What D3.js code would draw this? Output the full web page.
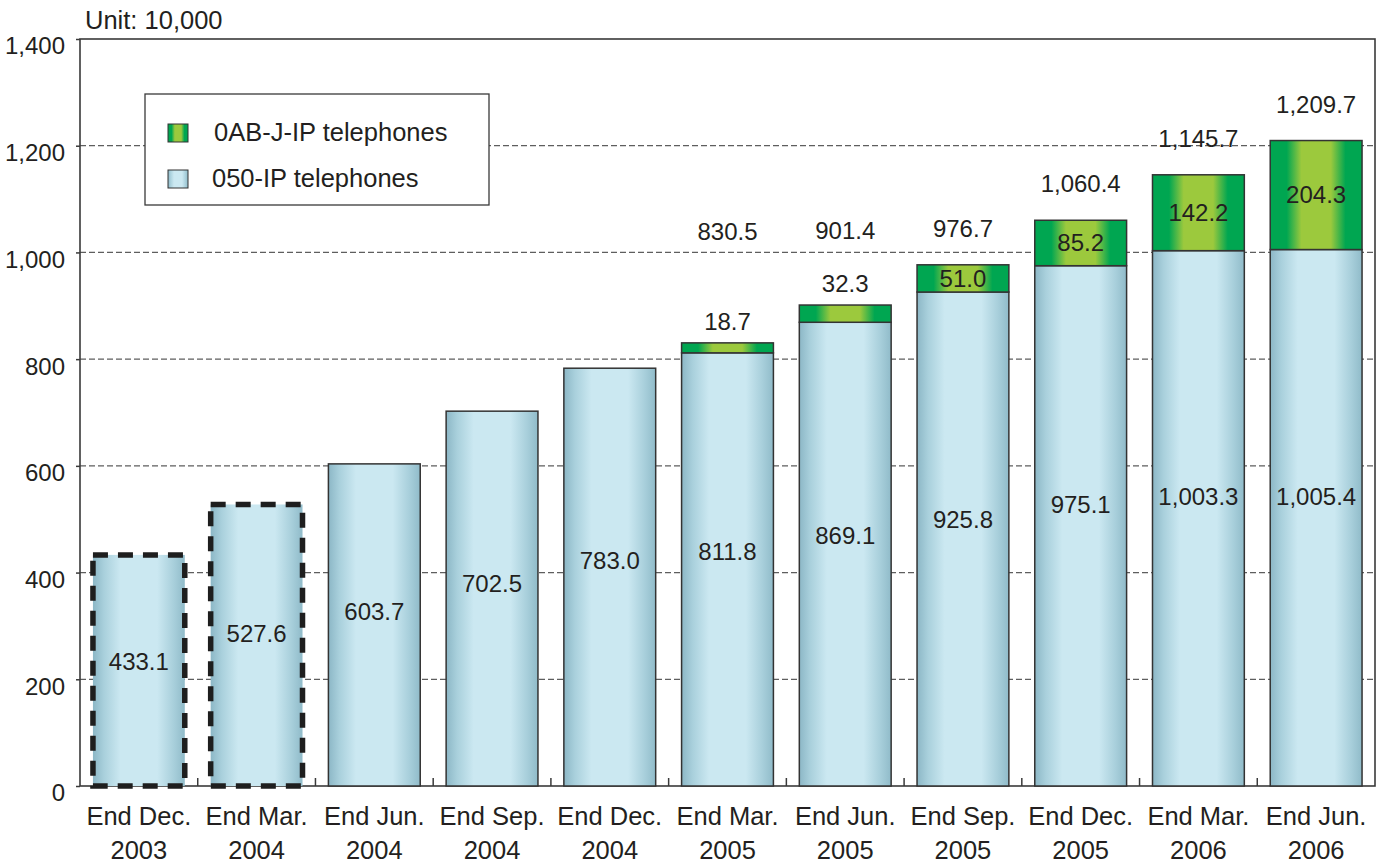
<!DOCTYPE html>
<html>
<head>
<meta charset="utf-8">
<script src="https://cdn.jsdelivr.net/npm/d3@7"></script>
<style>
  html, body { margin: 0; padding: 0; background: #fff; }
  svg text { font-family: "Liberation Sans", Arial, Helvetica, sans-serif; fill: #231f20; }
</style>
</head>
<body>
<svg id="chart" width="1393" height="865"></svg>
<script>
// Subscriber counts, unit: 10,000
const periods = [
  ["End Dec.", "2003"], ["End Mar.", "2004"], ["End Jun.", "2004"], ["End Sep.", "2004"],
  ["End Dec.", "2004"], ["End Mar.", "2005"], ["End Jun.", "2005"], ["End Sep.", "2005"],
  ["End Dec.", "2005"], ["End Mar.", "2006"], ["End Jun.", "2006"]
];
const ip050 = [433.1, 527.6, 603.7, 702.5, 783.0, 811.8, 869.1, 925.8, 975.1, 1003.3, 1005.4];
const ip0ABJ = [0, 0, 0, 0, 0, 18.7, 32.3, 51.0, 85.2, 142.2, 204.3];
const totals = [null, null, null, null, null, 830.5, 901.4, 976.7, 1060.4, 1145.7, 1209.7];
const estimated = [true, true, false, false, false, false, false, false, false, false, false];
const yTicks = [0, 200, 400, 600, 800, 1000, 1200, 1400];
const seriesNames = ["0AB-J-IP telephones", "050-IP telephones"];

const svg = d3.select("#chart");
const plotL = 80, plotR = 1375, plotT = 39, plotB = 786;
const numSize = 24, wordSize = 25.5;

const x = d3.scaleBand().domain(d3.range(periods.length)).range([plotL, plotR]).paddingInner(0.22).paddingOuter(0.11);
const y = d3.scaleLinear().domain([0, 1400]).range([plotB, plotT]);

// gradients
const defs = svg.append("defs");
const blue = defs.append("linearGradient").attr("id", "gBlue").attr("x1", "0").attr("x2", "1").attr("y1", "0").attr("y2", "0");
[[0, "#8cb7c6"], [0.12, "#a9d0dc"], [0.3, "#cbe8f1"], [0.7, "#cbe8f1"], [0.88, "#a8cfdb"], [1, "#90bbc9"]]
  .forEach(([o, c]) => blue.append("stop").attr("offset", o).attr("stop-color", c));
const green = defs.append("linearGradient").attr("id", "gGreen").attr("x1", "0").attr("x2", "1").attr("y1", "0").attr("y2", "0");
[[0, "#00a651"], [0.18, "#00a651"], [0.34, "#9cc93d"], [0.66, "#9cc93d"], [0.82, "#00a651"], [1, "#00a651"]]
  .forEach(([o, c]) => green.append("stop").attr("offset", o).attr("stop-color", c));

// grid
svg.append("g").selectAll("line").data(yTicks.filter(d => d > 0 && d < 1400)).join("line")
  .attr("x1", plotL).attr("x2", plotR).attr("y1", d => y(d)).attr("y2", d => y(d))
  .attr("stroke", "#5e5e5e").attr("stroke-width", 1.3).attr("stroke-dasharray", "6,3");

// frame
svg.append("rect").attr("x", plotL).attr("y", plotT).attr("width", plotR - plotL).attr("height", plotB - plotT)
  .attr("fill", "none").attr("stroke", "#3a3a3a").attr("stroke-width", 1.6);

// y axis
const yAxis = d3.axisLeft(y).tickValues(yTicks).tickSize(4).tickPadding(11).tickFormat(d3.format(","));
const ya = svg.append("g").attr("transform", `translate(${plotL},0)`).call(yAxis);
ya.select(".domain").remove();
ya.selectAll("line").attr("stroke", "#3a3a3a").attr("stroke-width", 1.5);
ya.selectAll("text").attr("font-size", numSize).attr("dy", "0.62em")
  .style("font-family", "Liberation Sans, Arial, sans-serif").attr("fill", "#231f20");

// category separator ticks
svg.append("g").selectAll("line").data(d3.range(1, periods.length)).join("line")
  .attr("x1", d => plotL + d * x.step()).attr("x2", d => plotL + d * x.step())
  .attr("y1", plotB).attr("y2", plotB - 8).attr("stroke", "#3a3a3a").attr("stroke-width", 1.5);

// bars: 050-IP
const g = svg.append("g");
g.selectAll("rect.b050").data(ip050).join("rect").attr("class", "b050")
  .attr("x", (d, i) => x(i)).attr("width", x.bandwidth())
  .attr("y", d => y(d)).attr("height", d => plotB - y(d))
  .attr("fill", "url(#gBlue)")
  .attr("stroke", (d, i) => estimated[i] ? "none" : "#333").attr("stroke-width", 1.5);

// estimated bars: heavy dashed outline
g.selectAll("rect.est").data(ip050.map((d, i) => ({ d, i })).filter(o => estimated[o.i])).join("rect")
  .attr("class", "est")
  .attr("x", o => x(o.i)).attr("width", x.bandwidth())
  .attr("y", o => y(o.d)).attr("height", o => plotB - y(o.d))
  .attr("fill", "none").attr("stroke", "#1e1e1e").attr("stroke-width", 5.5).attr("stroke-dasharray", "15,10");

// bars: 0AB-J-IP
g.selectAll("rect.bAB").data(ip0ABJ.map((d, i) => ({ d, i })).filter(o => o.d > 0)).join("rect").attr("class", "bAB")
  .attr("x", o => x(o.i)).attr("width", x.bandwidth())
  .attr("y", o => y(ip050[o.i] + o.d)).attr("height", o => y(ip050[o.i]) - y(ip050[o.i] + o.d))
  .attr("fill", "url(#gGreen)").attr("stroke", "#333").attr("stroke-width", 1.5);

// value labels
const lbl = svg.append("g").attr("font-size", numSize).attr("text-anchor", "middle");
lbl.selectAll("text.v050").data(ip050).join("text")
  .attr("x", (d, i) => x(i) + x.bandwidth() / 2)
  .attr("y", d => y(d * 0.54)).attr("dy", "0.35em")
  .text(d => d3.format(",.1f")(d));

ip0ABJ.forEach((d, i) => {
  if (!d) return;
  const cx = x(i) + x.bandwidth() / 2;
  const yTop = y(ip050[i] + d);
  const segH = y(ip050[i]) - yTop;
  const inside = segH > 26;
  lbl.append("text").attr("x", cx)
    .attr("y", inside ? (yTop + y(ip050[i])) / 2 : yTop - 13)
    .attr("dy", inside ? "0.35em" : "0")
    .text(d3.format(",.1f")(d));
  // totals sit above the stack, kept clear of the 1,000 grid line
  lbl.append("text").attr("x", cx)
    .attr("y", Math.min(inside ? yTop - 28 : yTop - 66, y(1000) - 12))
    .text(d3.format(",.1f")(totals[i]));
});

// category labels
const cat = svg.append("g").attr("font-size", wordSize).attr("text-anchor", "middle");
periods.forEach((p, i) => {
  const cx = x(i) + x.bandwidth() / 2;
  cat.append("text").attr("x", cx).attr("y", 825).text(p[0]);
  cat.append("text").attr("x", cx).attr("y", 859).text(p[1]);
});

// unit
svg.append("text").attr("x", 85).attr("y", 29).attr("font-size", wordSize).text("Unit: 10,000");

// legend
const lg = svg.append("g");
lg.append("rect").attr("x", 145).attr("y", 94).attr("width", 344).attr("height", 111)
  .attr("fill", "#fff").attr("stroke", "#3a3a3a").attr("stroke-width", 1.3);
const swatchFill = ["url(#gGreen)", "url(#gBlue)"];
seriesNames.forEach((n, k) => {
  const yy = 124 + k * 46;
  lg.append("rect").attr("x", 168).attr("y", yy).attr("width", 20).attr("height", 18)
    .attr("fill", swatchFill[k]).attr("stroke", "#333").attr("stroke-width", 1);
  lg.append("text").attr("x", k === 0 ? 214 : 212).attr("y", yy + 17).attr("font-size", wordSize).text(n);
});
</script>
</body>
</html>
